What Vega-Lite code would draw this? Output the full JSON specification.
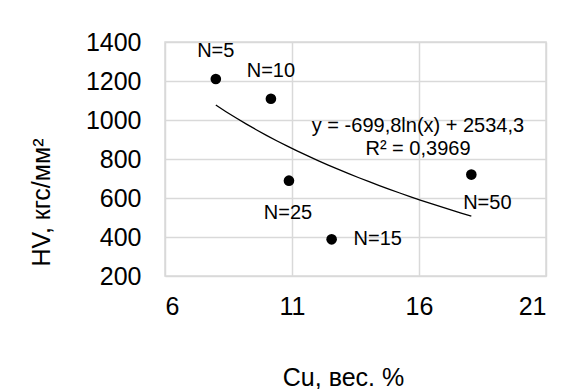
{
  "$schema": "https://vega.github.io/schema/vega-lite/v6.json",
  "width": 381,
  "height": 234,
  "autosize": {"type": "none"},
  "padding": {"left": 165, "top": 42, "right": 38, "bottom": 113},
  "background": "white",
  "config": {
    "font": "Liberation Sans",
    "view": {"stroke": "#d9d9d9", "strokeWidth": 1.5},
    "axis": {
      "labelFont": "Liberation Sans",
      "labelFontSize": 25,
      "labelColor": "#000000",
      "labelOverlap": false,
      "domain": false,
      "ticks": false,
      "gridColor": "#d9d9d9",
      "gridWidth": 1.5,
      "titleFont": "Liberation Sans",
      "titleFontSize": 25,
      "titleFontWeight": "normal",
      "titleColor": "#000000",
      "titleAlign": "center",
      "titleBaseline": "middle"
    },
    "axisX": {"labelPadding": 18, "titleX": 178, "titleY": 101},
    "axisY": {"labelPadding": 24, "titleAngle": -90, "titleX": -124, "titleY": 160}
  },
  "data": {
    "values": [
      {"Cu": 8.0, "HV": 1210, "label": "N=5"},
      {"Cu": 10.17, "HV": 1109, "label": "N=10"},
      {"Cu": 10.88, "HV": 689, "label": "N=25"},
      {"Cu": 12.56, "HV": 388, "label": "N=15"},
      {"Cu": 18.06, "HV": 720, "label": "N=50"}
    ]
  },
  "layer": [
    {
      "transform": [{"regression": "HV", "on": "Cu", "method": "log"}],
      "mark": {"type": "line", "color": "#000000", "strokeWidth": 1.3},
      "encoding": {
        "x": {"field": "Cu", "type": "quantitative", "scale": {"domain": [6, 21], "nice": false, "zero": false}, "axis": {"values": [6, 11, 16, 21], "format": "d", "title": "Cu, вес. %"}},
        "y": {"field": "HV", "type": "quantitative", "scale": {"domain": [200, 1400], "nice": false, "zero": false}, "axis": {"values": [200, 400, 600, 800, 1000, 1200, 1400], "format": "d", "title": "HV, кгс/мм²"}}
      }
    },
    {
      "mark": {"type": "circle", "color": "#000000", "opacity": 1, "size": 113},
      "encoding": {
        "x": {"field": "Cu", "type": "quantitative", "axis": {"values": [6, 11, 16, 21], "format": "d", "title": "Cu, вес. %"}},
        "y": {"field": "HV", "type": "quantitative", "axis": {"values": [200, 400, 600, 800, 1000, 1200, 1400], "format": "d", "title": "HV, кгс/мм²"}}
      }
    },
    {
      "transform": [{"filter": "datum.label === 'N=5' || datum.label === 'N=10'"}],
      "mark": {"type": "text", "font": "Liberation Sans", "fontSize": 20, "color": "#000000", "dy": -28, "align": "center", "baseline": "middle"},
      "encoding": {
        "x": {"field": "Cu", "type": "quantitative", "axis": {"values": [6, 11, 16, 21], "format": "d", "title": "Cu, вес. %"}},
        "y": {"field": "HV", "type": "quantitative", "axis": {"values": [200, 400, 600, 800, 1000, 1200, 1400], "format": "d", "title": "HV, кгс/мм²"}},
        "text": {"field": "label"}
      }
    },
    {
      "transform": [{"filter": "datum.label === 'N=25'"}],
      "mark": {"type": "text", "font": "Liberation Sans", "fontSize": 20, "color": "#000000", "dy": 32, "dx": -1, "align": "center", "baseline": "middle"},
      "encoding": {
        "x": {"field": "Cu", "type": "quantitative", "axis": {"values": [6, 11, 16, 21], "format": "d", "title": "Cu, вес. %"}},
        "y": {"field": "HV", "type": "quantitative", "axis": {"values": [200, 400, 600, 800, 1000, 1200, 1400], "format": "d", "title": "HV, кгс/мм²"}},
        "text": {"field": "label"}
      }
    },
    {
      "transform": [{"filter": "datum.label === 'N=50'"}],
      "mark": {"type": "text", "font": "Liberation Sans", "fontSize": 20, "color": "#000000", "dy": 28, "dx": 16, "align": "center", "baseline": "middle"},
      "encoding": {
        "x": {"field": "Cu", "type": "quantitative", "axis": {"values": [6, 11, 16, 21], "format": "d", "title": "Cu, вес. %"}},
        "y": {"field": "HV", "type": "quantitative", "axis": {"values": [200, 400, 600, 800, 1000, 1200, 1400], "format": "d", "title": "HV, кгс/мм²"}},
        "text": {"field": "label"}
      }
    },
    {
      "transform": [{"filter": "datum.label === 'N=15'"}],
      "mark": {"type": "text", "font": "Liberation Sans", "fontSize": 20, "color": "#000000", "dx": 22, "align": "left", "baseline": "middle"},
      "encoding": {
        "x": {"field": "Cu", "type": "quantitative", "axis": {"values": [6, 11, 16, 21], "format": "d", "title": "Cu, вес. %"}},
        "y": {"field": "HV", "type": "quantitative", "axis": {"values": [200, 400, 600, 800, 1000, 1200, 1400], "format": "d", "title": "HV, кгс/мм²"}},
        "text": {"field": "label"}
      }
    },
    {
      "data": {"values": [{"eq": "y = -699,8ln(x) + 2534,3", "r2": "R² = 0,3969"}]},
      "mark": {"type": "text", "font": "Liberation Sans", "fontSize": 20, "color": "#000000", "align": "center", "baseline": "middle"},
      "encoding": {
        "x": {"datum": 15.96, "type": "quantitative", "axis": {"values": [6, 11, 16, 21], "format": "d", "title": "Cu, вес. %"}},
        "y": {"datum": 967, "type": "quantitative", "axis": {"values": [200, 400, 600, 800, 1000, 1200, 1400], "format": "d", "title": "HV, кгс/мм²"}},
        "text": {"field": "eq"}
      }
    },
    {
      "data": {"values": [{"eq": "y = -699,8ln(x) + 2534,3", "r2": "R² = 0,3969"}]},
      "mark": {"type": "text", "font": "Liberation Sans", "fontSize": 20, "color": "#000000", "align": "center", "baseline": "middle"},
      "encoding": {
        "x": {"datum": 15.96, "type": "quantitative", "axis": {"values": [6, 11, 16, 21], "format": "d", "title": "Cu, вес. %"}},
        "y": {"datum": 851, "type": "quantitative", "axis": {"values": [200, 400, 600, 800, 1000, 1200, 1400], "format": "d", "title": "HV, кгс/мм²"}},
        "text": {"field": "r2"}
      }
    }
  ]
}
